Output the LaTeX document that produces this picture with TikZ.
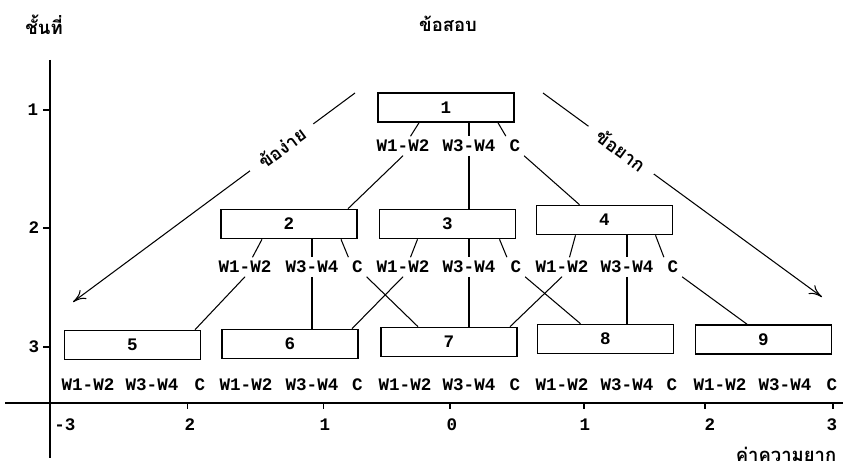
\documentclass[tikz,border=0pt]{standalone}
\usepackage{fontspec}
\setmonofont{Liberation Mono}
\newfontfamily\thaifont[Script=Thai]{Loma}
\usetikzlibrary{arrows.meta, calc}

\begin{document}
\begin{tikzpicture}[>={To[length=2.6mm, width=2.2mm]},
  itembox/.style={draw, line width=0.9pt, minimum width=2.72cm, minimum height=0.58cm,
    font=\ttfamily\bfseries\fontsize{10}{12}\selectfont},
  wlbl/.style={font=\ttfamily\bfseries\fontsize{10}{12}\selectfont, inner sep=2pt},
  thai/.style={font=\thaifont\bfseries\fontsize{10.5}{12}\selectfont},
  conn/.style={line width=0.6pt},
  axis/.style={line width=0.8pt}]

% Background
\fill[white] (0,0) rectangle (16.86,9.38);
\useasboundingbox (0,0) rectangle (16.86,9.38);

% Headings
\node[thai] (hlevel) at (0.88,8.88) {ชั้นที่};
\node[thai] (hitems) at (8.96,8.90) {ข้อสอบ};
\node[thai, inner sep=1pt] (hdiff) at (15.72,0.3) {ค่าความยาก};

% --- Axes ---
\draw[axis] (1.0,8.18) -- (1.0,0.22);
\draw[axis] (0.1,1.32) -- (16.86,1.32);

% Level ticks
\draw[axis] (0.86,7.18) -- (1.0,7.18);
\node[wlbl] (lv1) at (0.66,7.18) {1};
\draw[axis] (0.86,4.82) -- (1.0,4.82);
\node[wlbl] (lv2) at (0.68,4.82) {2};
\draw[axis] (0.86,2.44) -- (1.0,2.44);
\node[wlbl] (lv3) at (0.68,2.44) {3};

% Difficulty ticks
\draw[conn] (3.75,1.32) -- (3.75,1.2);
\draw[conn] (6.47,1.32) -- (6.47,1.2);
\draw[conn] (9.0,1.32) -- (9.0,1.2);
\draw[conn] (11.68,1.32) -- (11.68,1.2);
\draw[conn] (14.1,1.32) -- (14.1,1.2);
\draw[conn] (16.66,1.32) -- (16.66,1.2);
\node[wlbl] (xm3) at (1.30,0.88) {-3};
\node[wlbl] (xm2) at (3.80,0.88) {2};
\node[wlbl] (xm1) at (6.50,0.88) {1};
\node[wlbl] (x0) at (9.04,0.88) {0};
\node[wlbl] (xp1) at (11.70,0.88) {1};
\node[wlbl] (xp2) at (14.20,0.88) {2};
\node[wlbl] (xp3) at (16.64,0.88) {3};

% --- Level 1 ---
\node[itembox] (b1) at (8.92,7.23) {1};
\node[wlbl] (wa1) at (8.06,6.46) {W1-W2};
\node[wlbl] (wb1) at (9.38,6.46) {W3-W4};
\node[wlbl] (wc1) at (10.30,6.46) {C};

% --- Level 2 ---
\node[itembox] (b2) at (5.78,4.90) {2};
\node[itembox] (b3) at (8.95,4.90) {3};
\node[itembox] (b4) at (12.09,4.98) {4};

\node[wlbl] (wa2) at (4.90,4.04) {W1-W2};
\node[wlbl] (wb2) at (6.24,4.04) {W3-W4};
\node[wlbl] (wc2) at (7.15,4.04) {C};
\node[wlbl] (wa3) at (8.06,4.04) {W1-W2};
\node[wlbl] (wb3) at (9.38,4.04) {W3-W4};
\node[wlbl] (wc3) at (10.32,4.04) {C};
\node[wlbl] (wa4) at (11.24,4.04) {W1-W2};
\node[wlbl] (wb4) at (12.54,4.04) {W3-W4};
\node[wlbl] (wc4) at (13.46,4.04) {C};

% --- Level 3 ---
\node[itembox] (b5) at (2.65,2.48) {5};
\node[itembox] (b6) at (5.80,2.50) {6};
\node[itembox] (b7) at (8.98,2.54) {7};
\node[itembox] (b8) at (12.11,2.60) {8};
\node[itembox] (b9) at (15.27,2.59) {9};

\node[wlbl] (wa5) at (1.76,1.68) {W1-W2};
\node[wlbl] (wb5) at (3.04,1.68) {W3-W4};
\node[wlbl] (wc5) at (4.00,1.68) {C};
\node[wlbl] (wa6) at (4.92,1.68) {W1-W2};
\node[wlbl] (wb6) at (6.24,1.68) {W3-W4};
\node[wlbl] (wc6) at (7.15,1.68) {C};
\node[wlbl] (wa7) at (8.10,1.68) {W1-W2};
\node[wlbl] (wb7) at (9.38,1.68) {W3-W4};
\node[wlbl] (wc7) at (10.30,1.68) {C};
\node[wlbl] (wa8) at (11.24,1.68) {W1-W2};
\node[wlbl] (wb8) at (12.54,1.68) {W3-W4};
\node[wlbl] (wc8) at (13.44,1.68) {C};
\node[wlbl] (wa9) at (14.40,1.68) {W1-W2};
\node[wlbl] (wb9) at (15.70,1.68) {W3-W4};
\node[wlbl] (wc9) at (16.64,1.68) {C};

% Box to its three routes
\draw[conn] ([xshift=-0.54cm]b1.south) -- ([xshift=0.15cm]wa1.north);
\draw[conn] (wb1.north |- b1.south) -- (wb1.north);
\draw[conn] ([xshift=1.04cm]b1.south) -- (wc1.north west);
\draw[conn] ([xshift=-0.54cm]b2.south) -- ([xshift=0.15cm]wa2.north);
\draw[conn] (wb2.north |- b2.south) -- (wb2.north);
\draw[conn] ([xshift=1.04cm]b2.south) -- (wc2.north west);
\draw[conn] ([xshift=-0.6cm]b3.south) -- ([xshift=0.15cm]wa3.north);
\draw[conn] (wb3.north |- b3.south) -- (wb3.north);
\draw[conn] ([xshift=1.04cm]b3.south) -- (wc3.north west);
\draw[conn] ([xshift=-0.58cm]b4.south) -- ([xshift=0.15cm]wa4.north);
\draw[conn] (wb4.north |- b4.south) -- (wb4.north);
\draw[conn] ([xshift=1.02cm]b4.south) -- (wc4.north west);

% Routes to the next level
\draw[conn] (wa1.south) -- ([xshift=1.18cm]b2.north);
\draw[conn] (wb1.south) -- (wb1.south |- b3.north);
\draw[conn] (wc1.south east) -- ([xshift=-0.5cm]b4.north);

\draw[conn] (wa2.south) -- ([xshift=1.25cm]b5.north);
\draw[conn] (wb2.south) -- (wb2.south |- b6.north);
\draw[conn] (wc2.south east) -- ([xshift=-0.62cm]b7.north);
\draw[conn] (wa3.south) -- ([xshift=1.24cm]b6.north);
\draw[conn] (wb3.south) -- (wb3.south |- b7.north);
\draw[conn] (wc3.south east) -- ([xshift=-0.5cm]b8.north);
\draw[conn] (wa4.south) -- ([xshift=1.22cm]b7.north);
\draw[conn] (wb4.south) -- (wb4.south |- b8.north);
\draw[conn] (wc4.south east) -- ([xshift=-0.33cm]b9.north);

% --- Easy / hard directions ---
\coordinate (easyS) at (7.10,7.52);
\coordinate (easyE) at (1.46,3.34);
\coordinate (hardS) at (10.86,7.52);
\coordinate (hardE) at (16.44,3.44);
\draw[conn, ->] (easyS) -- node[thai, sloped, fill=white, inner xsep=7pt, pos=0.26] (easy) {ข้อง่าย} (easyE);
\draw[conn, ->] (hardS) -- node[thai, sloped, fill=white, inner xsep=7pt, pos=0.28] (hard) {ข้อยาก} (hardE);

\end{tikzpicture}
\end{document}
